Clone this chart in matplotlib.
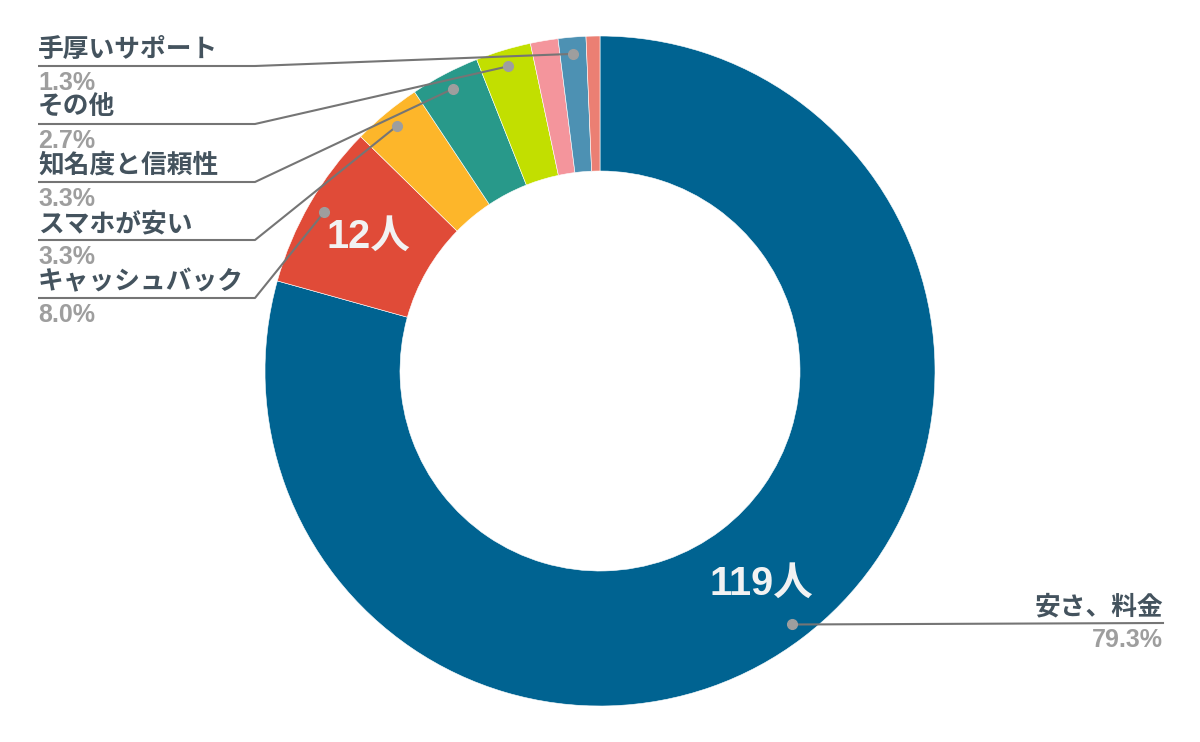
import numpy as np
import matplotlib.pyplot as plt

# Survey answers (people), clockwise from 12 o'clock
categories = ['安さ、料金', 'キャッシュバック', 'スマホが安い', '知名度と信頼性', 'その他', '', '手厚いサポート', '']
counts = [119, 12, 5, 5, 4, 2, 2, 1]
colors = ['#006391', '#E04B38', '#FDB62A', '#28998A', '#C2DF00', '#F4959C', '#4D91B3', '#EB7F73']
inner_labels = {0: '119人', 1: '12人'}

W, H = 1200, 742
CX, CY, R, R_IN = 600, 371, 335, 200
FONT = ['Liberation Sans', 'Noto Sans CJK JP']
NAME_C = '#44535E'
PCT_C = '#9E9E9E'
LINE_C = '#757575'

fig = plt.figure(figsize=(W / 100, H / 100), dpi=100)
ax = fig.add_axes([0, 0, 1, 1])

ax.pie(counts, colors=colors, startangle=90, counterclock=False,
       center=(CX, H - CY), radius=R,
       wedgeprops=dict(width=R - R_IN, linewidth=0.4, edgecolor='white'))

# pie() resets the limits, so set the pixel frame afterwards
ax.set_xlim(0, W)
ax.set_ylim(0, H)
ax.set_aspect('equal')
ax.axis('off')

total = sum(counts)
ends = 90 - 360 * np.cumsum(counts) / total
starts = np.concatenate([[90], ends[:-1]])
mids = np.radians((starts + ends) / 2)

# value labels inside the ring
for i, txt in inner_labels.items():
    r = (R + R_IN) / 2
    ax.text(CX + r * np.cos(mids[i]), H - CY + r * np.sin(mids[i]), txt,
            ha='center', va='center', color='#F2F2F2', fontsize=28.5,
            fontweight='bold', family=FONT)

# left-side labels, top to bottom
left_rows = [(6, 66), (4, 124), (3, 182), (2, 240), (1, 298)]
for i, ly in left_rows:
    dx = CX + 0.95 * R * np.cos(mids[i])
    dy = H - CY + 0.95 * R * np.sin(mids[i])
    ax.plot([38, 255, dx], [H - ly, H - ly, dy], color=LINE_C, lw=1.5,
            solid_capstyle='butt', zorder=3)
    ax.plot(dx, dy, 'o', ms=7, color=PCT_C, zorder=4)
    ax.text(38, H - ly + 4, categories[i], ha='left', va='bottom',
            color=NAME_C, fontsize=18.5, fontweight='bold', family=FONT)
    ax.text(38, H - ly - 5, f'{counts[i] / total * 100:.1f}%', ha='left', va='top',
            color=PCT_C, fontsize=18, fontweight='bold', family=FONT)

# right-side label for the big slice
i, ly = 0, 623
dx = CX + 0.95 * R * np.cos(mids[i])
dy = H - CY + 0.95 * R * np.sin(mids[i])
ax.plot([dx, 1163], [dy, H - ly], color=LINE_C, lw=1.5, zorder=3)
ax.plot(dx, dy, 'o', ms=7, color=PCT_C, zorder=4)
ax.text(1163, H - ly + 4, categories[i], ha='right', va='bottom',
        color=NAME_C, fontsize=18.5, fontweight='bold', family=FONT)
ax.text(1163, H - ly - 5, f'{counts[i] / total * 100:.1f}%', ha='right', va='top',
        color=PCT_C, fontsize=18, fontweight='bold', family=FONT)

fig.savefig('out.png', dpi=100)
